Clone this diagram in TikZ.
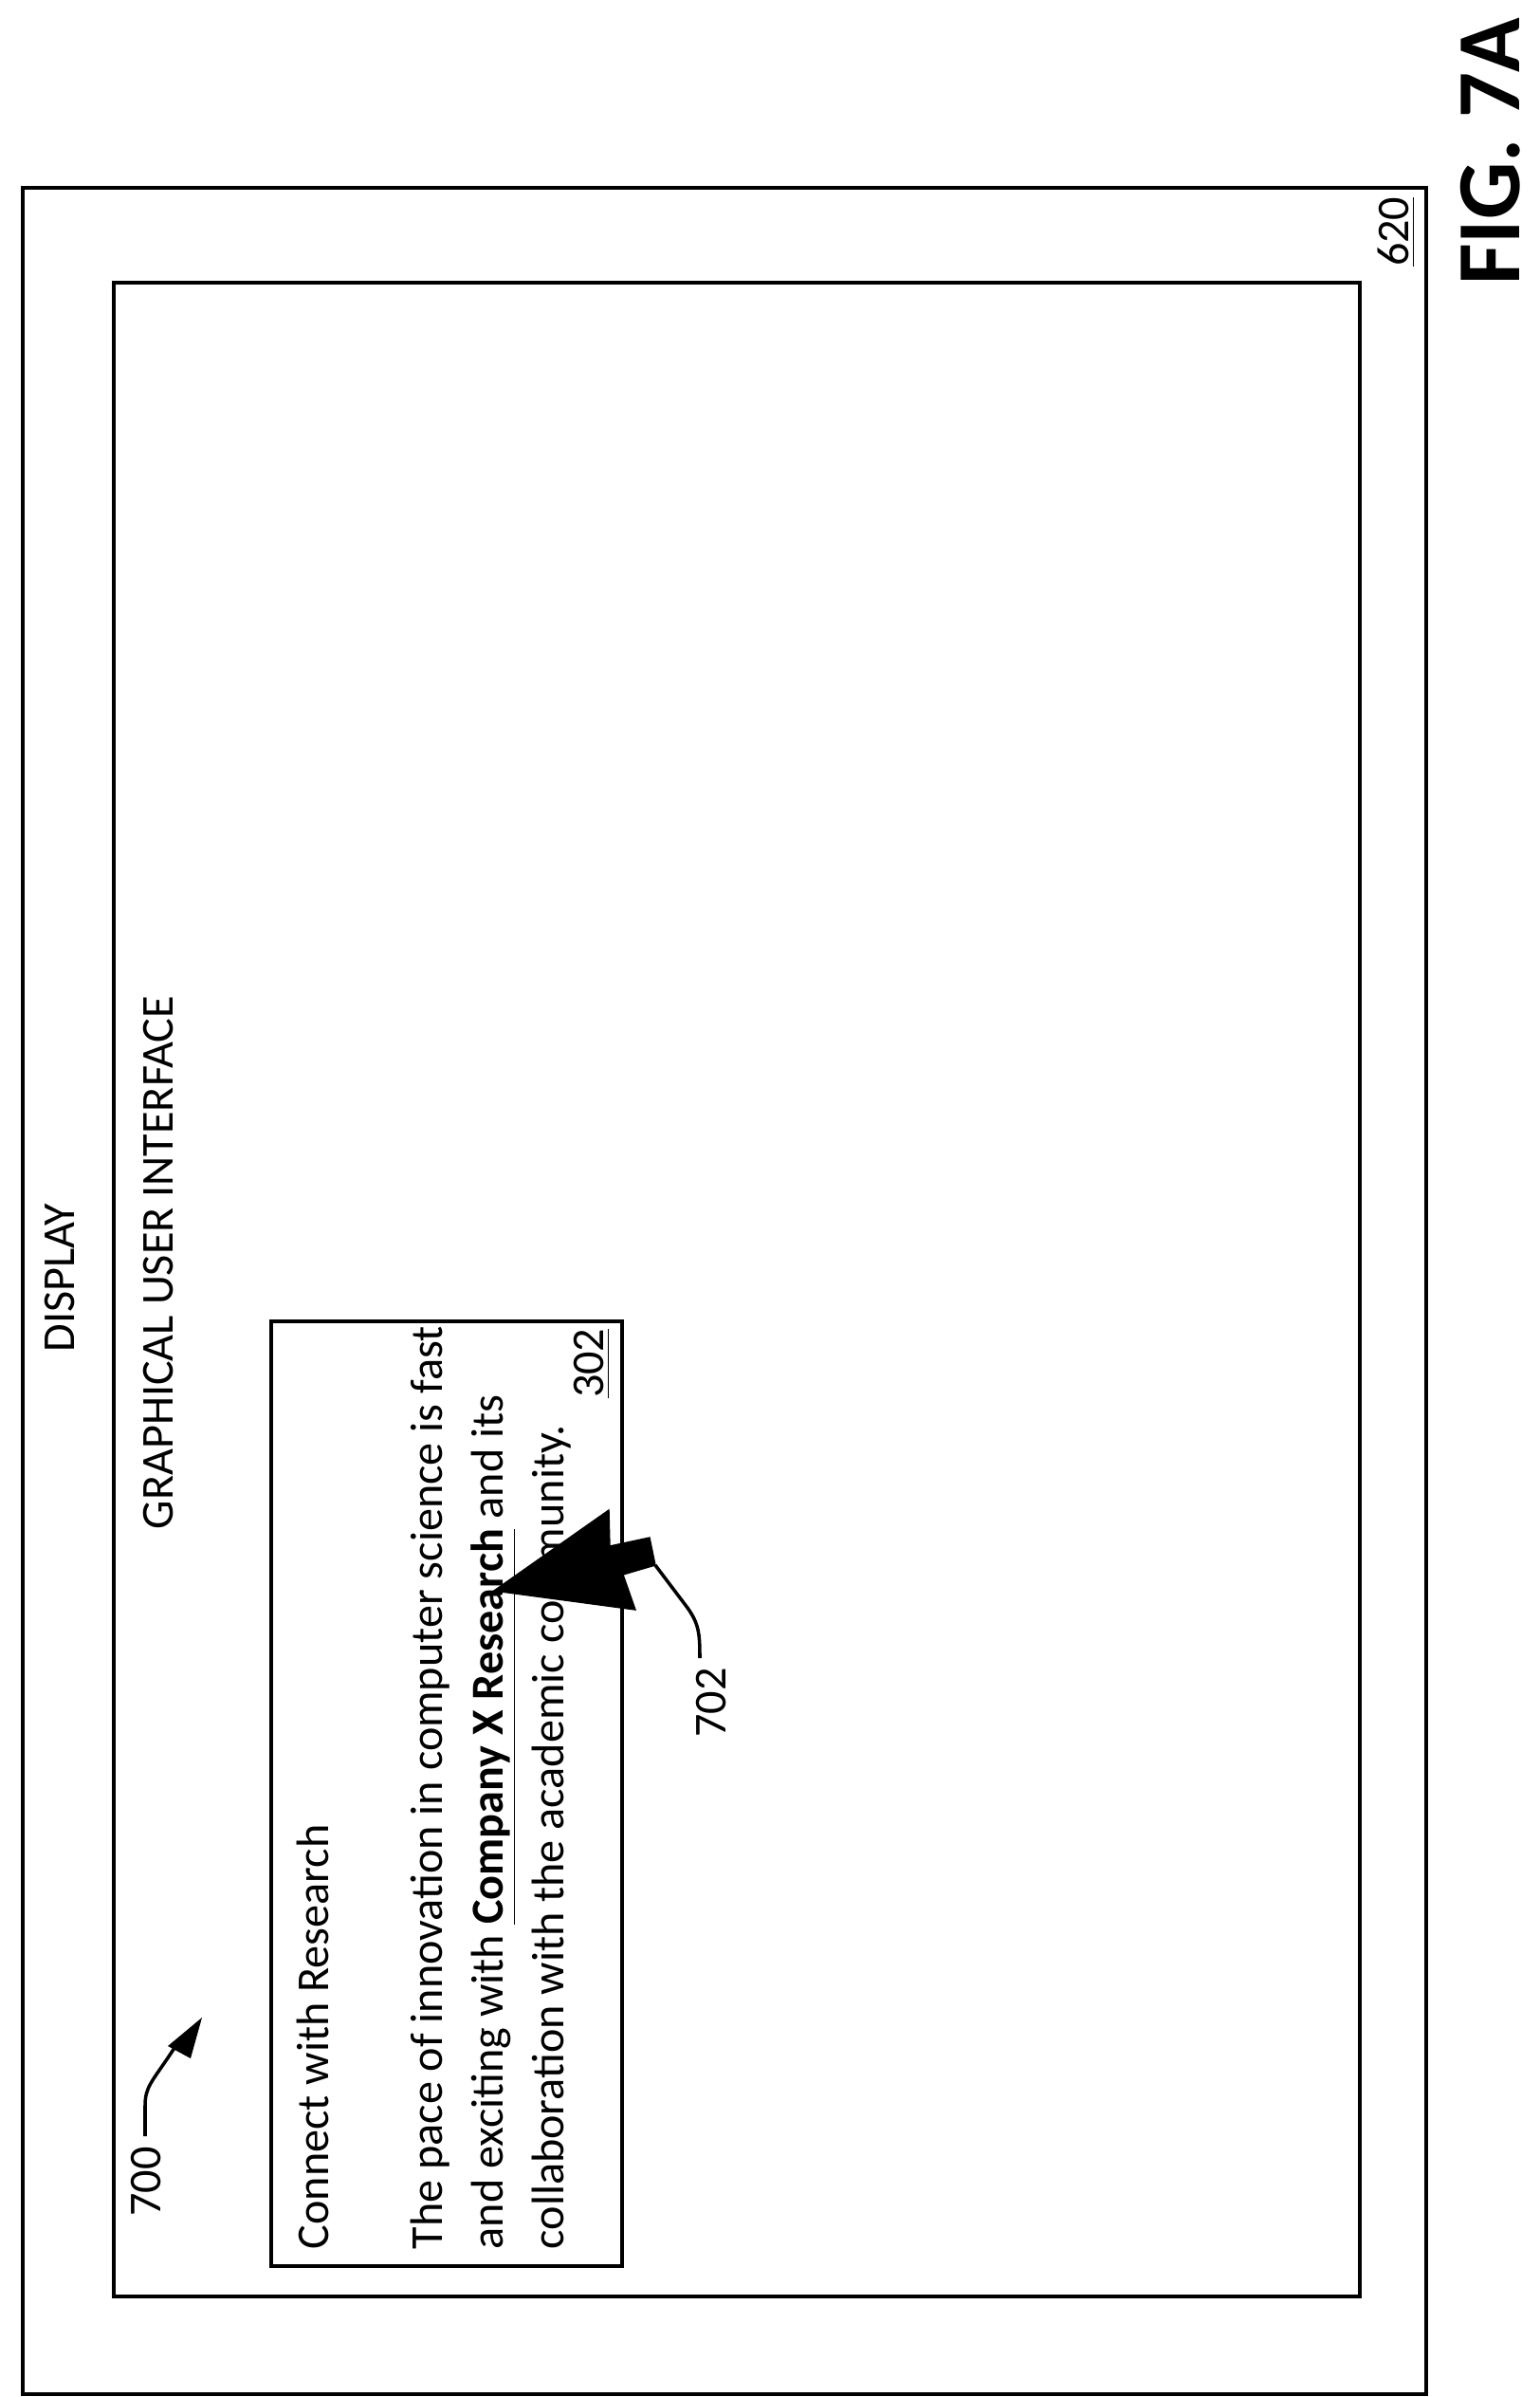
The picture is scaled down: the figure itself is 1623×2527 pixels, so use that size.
\documentclass[tikz,border=0pt]{standalone}
\usepackage{fontspec}
\setmainfont{Carlito}
\begin{document}
\begin{tikzpicture}[x=0.01cm,y=-0.01cm,
  box/.style={draw,line width=1.2pt},
  lbl/.style={rotate=90,inner sep=0pt,font=\fontsize{13.7}{15}\selectfont}]
\useasboundingbox (0,0) rectangle (1623,2527);
\draw[box] (24,198) rectangle (1504,2524);
\draw[box] (120,298) rectangle (1434,2421);
\draw[box] (286,1393) rectangle (656,2389);
\node[lbl,anchor=base] (disp) at (78,1347) {DISPLAY};
\node[lbl,anchor=base] (gui) at (182,1331) {GRAPHICAL USER INTERFACE};
\node[lbl,anchor=base west] (t0) at (346,2372) {Connect with Research};
\node[lbl,anchor=base west] (t1) at (466,2372) {The pace of innovation in computer science is fast};
\node[lbl,anchor=base west] (t2) at (530,2372) {and exciting with \textbf{\underline{Company X Research}} and its};
\node[lbl,anchor=base west] (t3) at (594,2372) {collaboration with the academic community.};
\node[lbl,anchor=base east] (n302) at (636,1400) {\underline{302}};
\node[lbl,anchor=base east] (n620) at (1485,207) {\underline{620}};
\node[rotate=90,inner sep=0pt,anchor=base east,font=\fontsize{27}{30}\bfseries\selectfont] (fig) at (1602,18) {FIG. 7A};
\node[lbl] (n700) at (154,2300) {700};
\node[lbl] (n702) at (750,1795) {702};
\coordinate (a0) at (153,2252);
\coordinate (a1) at (213,2127);
\draw[line width=1pt] (a0) -- (153,2220) .. controls (153,2200) and (160,2195) .. (180,2165) -- (190,2150);
\fill (a1) -- (177,2157) -- (201,2170) -- cycle;
\fill[draw,line join=miter] (521,1677) -- (642,1592) -- (643,1630) -- (685,1621) -- (691,1650) -- (657,1660) -- (670,1697) -- cycle;
\coordinate (c0) at (691,1650);
\draw[line width=1pt] (c0) -- (725,1695) .. controls (737,1712) and (738,1722) .. (738,1748);
\end{tikzpicture}
\end{document}
